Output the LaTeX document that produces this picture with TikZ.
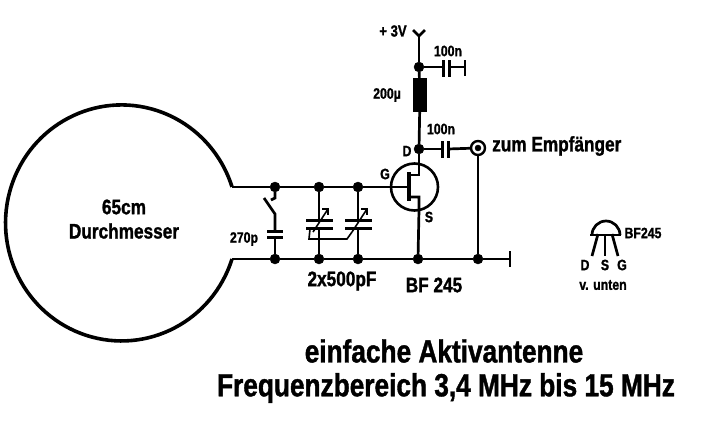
\documentclass[tikz,border=0pt]{standalone}
\usepackage{fontspec}
\setmainfont[FakeStretch=0.82,BoldFeatures={FakeBold=1.2}]{Liberation Sans}
\usetikzlibrary{positioning}
\tikzset{
  wire/.style  = { line width=2.7pt, line join=miter },
  thin wire/.style = { line width=1.6pt },
  jn/.style    = { draw, fill=black, circle, inner sep=0pt, minimum size=10pt },
  lbl/.style   = { inner sep=0pt, font=\bfseries\fontsize{#1}{#1}\selectfont },
  plate/.style = { line width=3pt },
  coil/.style  = { draw, fill=black, inner sep=0pt, minimum width=13pt, minimum height=33pt },
  jack/.style  = { draw, circle, line width=2.4pt, fill=white, inner sep=0pt, minimum size=14pt }
}
\begin{document}
\begin{tikzpicture}[x=1pt,y=-1pt]
  \useasboundingbox (0,0) rectangle (713,445);
  % loop antenna
  \coordinate (lt) at (232,187);
  \coordinate (lb) at (232,259);
  \draw[line width=3.6pt] (lb) arc[start angle=17.8,end angle=342.2,x radius=116,y radius=118];
  % junctions
  \node[jn] (t1) at (275,187) {};
  \node[jn] (t2) at (319,187) {};
  \node[jn] (t3) at (358,187) {};
  \node[jn] (b1) at (275,259) {};
  \node[jn] (b2) at (319,259) {};
  \node[jn] (b3) at (358,259) {};
  \node[jn] (b4) at (418,259) {};
  \node[jn] (b5) at (478,259) {};
  \node[jn] (dr) at (419,149) {};
  \node[jn] (vc) at (419,67) {};
  \coordinate (bend) at (510,259);
  \draw[wire] (lt) -- (t1) -- (t2) -- (t3) -- (407,187);
  \draw[wire] (lb) -- (b1) -- (b2) -- (b3) -- (b4) -- (b5) -- (bend);
  \draw[wire] (510,251) -- (510,267);
  % switch and 270p
  \coordinate (swa) at (275,214);
  \coordinate (c1a) at (275,231);
  \coordinate (c1b) at (275,237);
  \draw[wire] (t1) -- (275,198) -- (271,200);
  \draw[wire] (264,198) -- (swa) -- (c1a);
  \draw[plate] (267,231) -- (283,231);
  \draw[plate] (267,237) -- (283,237);
  \draw[wire] (c1b) -- (b1);
  % tuning capacitors
  \foreach \x/\a/\b in {319/t2/b2,358/t3/b3} {
    \draw[wire] (\a) -- (\x,220);
    \draw[wire] (\x,228) -- (\b);
    \draw[plate] (\x-13,220) -- (\x+14,220);
    \draw[plate] (\x-13,228) -- (\x+14,228);
    \draw[thin wire] (\x-6,232) -- (\x+9,209);
    \draw[thin wire] (\x+3,209) -- (\x+9,209) -- (\x+9,215);
  }
  \draw[thin wire] (310,229) -- (309,239) -- (347,239) -- (352,232);
  % transistor
  \node[draw, circle, line width=2.6pt, inner sep=0pt, minimum size=47pt] (fet) at (414.5,187) {};
  \draw[line width=4.5pt] (409,172) -- (409,201);
  \draw[wire] (409,175) -- (419,175) -- (dr);
  \draw[wire] (409,197) -- (419,197) -- (419,210) -- (b4);
  % supply
  \coordinate (vt) at (419,36);
  \draw[wire] (413,30) -- (vt) -- (425,30);
  \draw[wire] (vt) -- (vc);
  \node[coil] (ind) at (420,95) {};
  \draw[wire] (vc) -- (ind) -- (dr);
  % 100n to ground
  \draw[wire] (vc) -- (443,67);
  \draw[plate] (443,60) -- (443,77);
  \draw[plate] (449,60) -- (449,77);
  \draw[wire] (449,67) -- (465,67);
  \draw[wire] (465,60) -- (465,76);
  % 100n to output
  \node[jack] (out) at (478,148) {};
  \node[jn, minimum size=6pt] (outc) at (478,148) {};
  \draw[wire] (dr) -- (442,149);
  \draw[plate] (442,141) -- (442,158);
  \draw[plate] (448,141) -- (448,158);
  \draw[wire] (448,149) -- (out);
  \draw[wire] (out) -- (b5);
  % pinout
  \draw[line width=2.7pt] (592,235) arc[start angle=180,end angle=360,radius=14];
  \draw[line width=2.7pt] (590,235) -- (621,235);
  \draw[wire] (598,234) -- (592,256);
  \draw[wire] (605,234) -- (605,256);
  \draw[wire] (612,234) -- (618,256);
  % texts
  \node[lbl=16] (vcc) at (393,31) {+ 3V};
  \node[lbl=15] (c2l) at (448,51) {100n};
  \node[lbl=15] (indl) at (387,95) {200µ};
  \node[lbl=15] (c3l) at (441,129) {100n};
  \node[lbl=15] (dl) at (407,151) {D};
  \node[lbl=15] (gl) at (385,174) {G};
  \node[lbl=15] (sl) at (429,217) {S};
  \node[lbl=21, anchor=west] (outl) at (492,146) {zum Empfänger};
  \node[lbl=21] (m1) at (124,207) {65cm};
  \node[lbl=21] (m2) at (124,231) {Durchmesser};
  \node[lbl=15] (c1l) at (244,239) {270p};
  \node[lbl=21] (c4l) at (342,281) {2x500pF};
  \node[lbl=21] (fetl) at (434,285) {BF 245};
  \node[lbl=15] (pn) at (643,233) {BF245};
  \node[lbl=15] (pd) at (585,265) {D};
  \node[lbl=15] (ps) at (605,265) {S};
  \node[lbl=15] (pg) at (622,265) {G};
  \node[lbl=15] (pv) at (603,285) {v. unten};
  \node[lbl=32] (t1l) at (444,351) {einfache Aktivantenne};
  \node[lbl=32] (t2l) at (446,388) {Frequenzbereich 3,4 MHz bis 15 MHz};
\end{tikzpicture}
\end{document}
